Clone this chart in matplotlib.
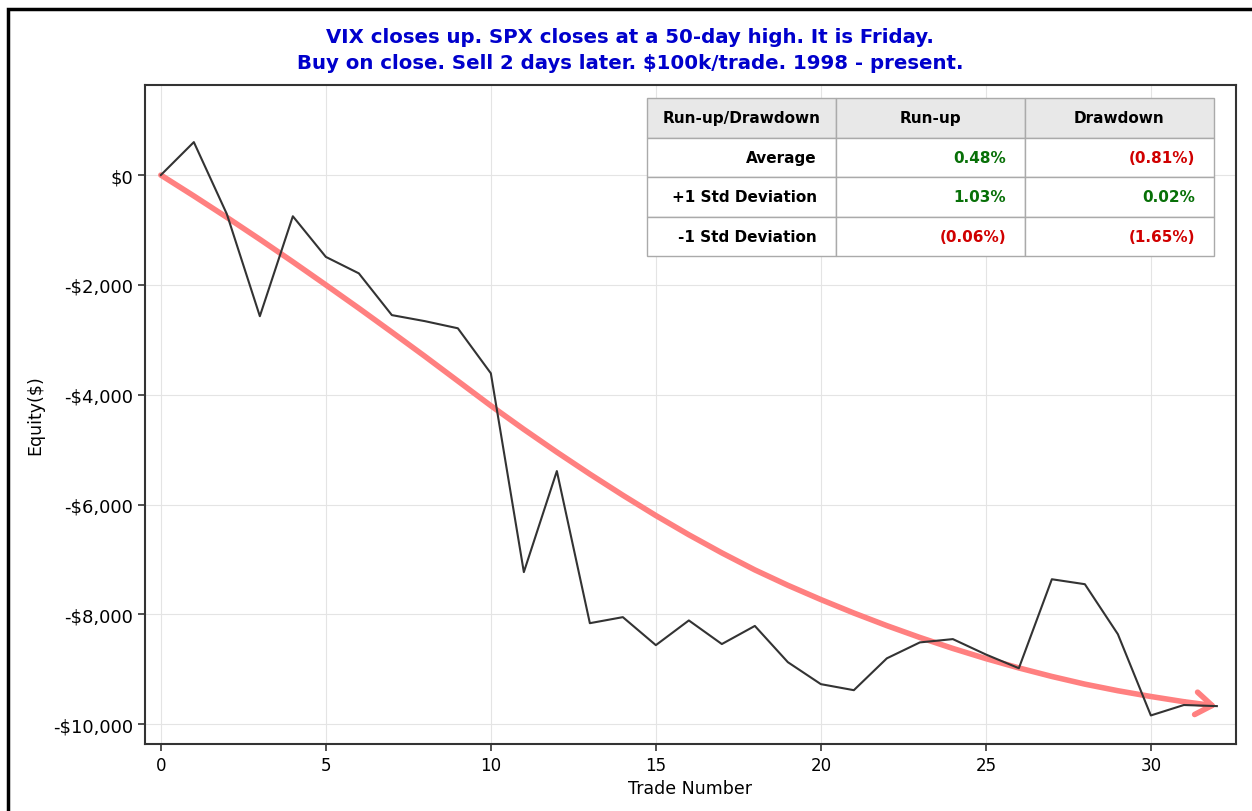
import numpy as np
import matplotlib.pyplot as plt
from matplotlib.patches import Rectangle
from matplotlib.ticker import FuncFormatter, MultipleLocator

# equity curve per trade
trades = list(range(33))
equity = [0, 600, -710, -2570, -750, -1490, -1790, -2550, -2660, -2790,
          -3610, -7230, -5390, -8160, -8050, -8560, -8110, -8540, -8210, -8870,
          -9270, -9380, -8800, -8510, -8450, -8730, -8980, -7360, -7450, -8360,
          -9840, -9650, -9670]

# red trend arrow
trend = [0, -380, -770, -1170, -1580, -2000, -2425, -2860, -3300, -3750,
         -4200, -4630, -5045, -5445, -5830, -6200, -6550, -6880, -7190, -7470,
         -7730, -7975, -8205, -8420, -8620, -8805, -8975, -9130, -9270, -9390,
         -9495, -9590, -9670]

title = ("VIX closes up. SPX closes at a 50-day high. It is Friday.\n"
         "Buy on close. Sell 2 days later. $100k/trade. 1998 - present.")

col_labels = ["Run-up/Drawdown", "Run-up", "Drawdown"]
row_labels = ["Average", "+1 Std Deviation", "-1 Std Deviation"]
runup = ["0.48%", "1.03%", "(0.06%)"]
drawdown = ["(0.81%)", "0.02%", "(1.65%)"]

GREEN = '#087008'
RED = '#d00000'

fig = plt.figure(figsize=(12.52, 8.12), dpi=100)
ax = fig.add_axes([145/1252, 1-745/812, 1091/1252, 659/812])

ax.plot(trend[:-1], color='#ff8080', lw=4, solid_capstyle='round', zorder=2)
ax.annotate('', xy=(trades[-1], trend[-1]), xytext=(trades[-2], trend[-2]),
            arrowprops=dict(arrowstyle='->, head_length=0.4, head_width=0.28',
                            color='#ff8080', lw=4, mutation_scale=29,
                            shrinkA=0, shrinkB=0),
            zorder=2)
ax.plot(trades, equity, color='#333333', lw=1.5, zorder=3)

ax.set_xlim(-0.48, 32.58)
ax.set_ylim(-10360, 1640)
ax.xaxis.set_major_locator(MultipleLocator(5))
ax.yaxis.set_major_locator(MultipleLocator(2000))

def money(v, pos):
    if v < 0:
        return '-${:,.0f}'.format(-v)
    return '${:,.0f}'.format(v)

ax.yaxis.set_major_formatter(FuncFormatter(money))
ax.tick_params(length=5, width=1.2, color='#333333')
ax.tick_params(axis='x', labelsize=12)
ax.tick_params(axis='y', labelsize=13)
ax.grid(True, color='#e4e4e4', lw=0.8)
ax.set_axisbelow(True)
for s in ax.spines.values():
    s.set_color('#333333')
    s.set_linewidth(1.5)

ax.set_xlabel('Trade Number', fontsize=12.5)
ax.set_ylabel('Equity($)', fontsize=12.5, labelpad=6)

fig.suptitle(title, x=0.503, y=0.965, fontsize=14.2, fontweight='bold',
             color='#0000cc', linespacing=1.45, va='top')

# table of run-up / drawdown stats
cells = [[row_labels[i], runup[i], drawdown[i]] for i in range(3)]
tbl = ax.table(cellText=cells, colLabels=col_labels,
               bbox=[0.460, 0.7405, 0.5197, 0.2397], zorder=5)
tbl.auto_set_font_size(False)
tbl.set_fontsize(11)
for (r, c), cell in tbl.get_celld().items():
    cell.set_edgecolor('#aaaaaa')
    cell.set_linewidth(1.0)
    txt = cell.get_text()
    txt.set_fontweight('bold')
    if r == 0:
        cell.set_facecolor('#e8e8e8')
        cell._loc = 'center'
        txt.set_ha('center')
    else:
        cell.set_facecolor('white')
        cell._loc = 'right'
        txt.set_ha('right')
        val = txt.get_text()
        if c > 0:
            txt.set_color(RED if val.startswith('(') else GREEN)

# black frame around the figure (cut off at right and bottom)
fig.patches.append(Rectangle((8/1252, -0.2), 1.5, 1.2 - 10/812,
                             transform=fig.transFigure, fill=False,
                             lw=2.5, ec='black', clip_on=False))

fig.savefig('out.png')
